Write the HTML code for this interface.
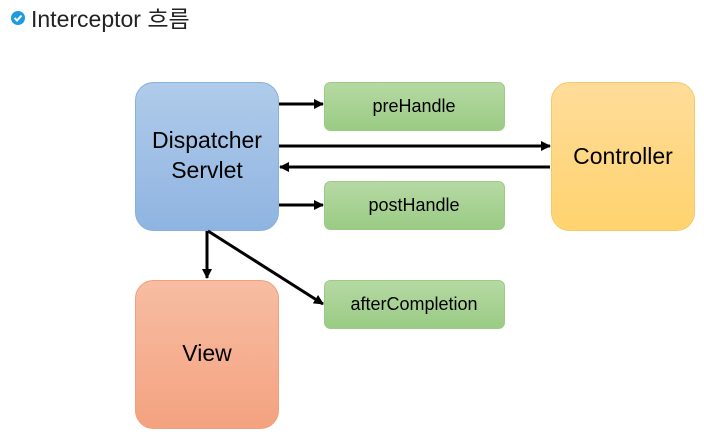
<!DOCTYPE html>
<html><head><meta charset="utf-8"><style>
body{margin:0;background:#fff;width:704px;height:437px;overflow:hidden;font-family:"Liberation Sans","Noto Sans CJK KR",sans-serif;}
</style></head><body>
<svg width="704" height="437" xmlns="http://www.w3.org/2000/svg">
<defs>
<linearGradient id="gb" x1="0" y1="0" x2="0" y2="1"><stop offset="0" stop-color="#b0cbea"/><stop offset="1" stop-color="#8fb4e1"/></linearGradient>
<linearGradient id="gg" x1="0" y1="0" x2="0" y2="1"><stop offset="0" stop-color="#b6d9a4"/><stop offset="1" stop-color="#9acb84"/></linearGradient>
<linearGradient id="gy" x1="0" y1="0" x2="0" y2="1"><stop offset="0" stop-color="#ffdc9a"/><stop offset="1" stop-color="#ffd36e"/></linearGradient>
<linearGradient id="go" x1="0" y1="0" x2="0" y2="1"><stop offset="0" stop-color="#f7bda3"/><stop offset="1" stop-color="#f4a27f"/></linearGradient>
<marker id="a" markerWidth="10" markerHeight="10" refX="9" refY="5" orient="auto" markerUnits="userSpaceOnUse"><path d="M0,0 L10,5 L0,10 z" fill="#000"/></marker>
</defs>
<circle cx="18" cy="18" r="7" fill="#1e9be0"/>
<path d="M14.5,18 L17,20.5 L21.5,15.5" stroke="#fff" stroke-width="2" fill="none"/>
<text x="31" y="27" font-size="23" fill="#222">Interceptor 흐름</text>
<rect x="135.5" y="82.5" width="143" height="148" rx="18" fill="url(#gb)" stroke="#8ab0dc"/>
<rect x="551.5" y="82.5" width="143" height="148" rx="18" fill="url(#gy)" stroke="#f5c86a"/>
<rect x="135.5" y="280.5" width="143" height="148" rx="18" fill="url(#go)" stroke="#f0a07c"/>
<rect x="324.5" y="82.5" width="180" height="48" rx="6" fill="url(#gg)" stroke="#9ccb86"/>
<rect x="324.5" y="181.5" width="180" height="48" rx="6" fill="url(#gg)" stroke="#9ccb86"/>
<rect x="324.5" y="280.5" width="180" height="48" rx="6" fill="url(#gg)" stroke="#9ccb86"/>
<g font-size="23" text-anchor="middle" fill="#000">
<text x="207" y="148">Dispatcher</text>
<text x="207" y="178">Servlet</text>
<text x="623" y="164">Controller</text>
<text x="207" y="361">View</text>
</g>
<g font-size="18" text-anchor="middle" fill="#000">
<text x="414" y="112">preHandle</text>
<text x="414" y="211">postHandle</text>
<text x="414" y="310">afterCompletion</text>
</g>
<g stroke="#000" stroke-width="3" fill="none">
<line x1="279" y1="104" x2="323" y2="104" marker-end="url(#a)"/>
<line x1="279" y1="146" x2="550" y2="146" marker-end="url(#a)"/>
<line x1="550" y1="167" x2="280" y2="167" marker-end="url(#a)"/>
<line x1="279" y1="205" x2="323" y2="205" marker-end="url(#a)"/>
<line x1="207" y1="231" x2="207" y2="278" marker-end="url(#a)"/>
<line x1="208" y1="231" x2="323" y2="304" marker-end="url(#a)"/>
</g>
</svg>
</body></html>
